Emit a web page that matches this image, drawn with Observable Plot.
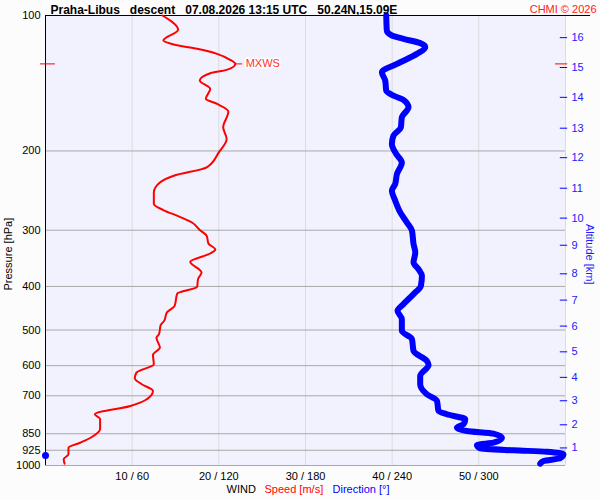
<!DOCTYPE html>
<html><head><meta charset="utf-8">
<script src="https://cdn.jsdelivr.net/npm/d3@7"></script>
<script src="https://cdn.jsdelivr.net/npm/@observablehq/plot@0.6"></script>
<style>
body{margin:0;background:#fcfcfc;}
svg text{white-space:pre;}
</style>
</head><body><div id="chart"></div>
<script>
// Wind speed profile (pressure hPa, speed m/s)
const speedP = [100,107.6,113.7,116,118.6,121.7,125.5,128.1,132.1,134.4,139.5,145.6,153.2,157.2,163.5,177.2,188.1,201.4,217.5,227,234.9,247.3,262.4,270.6,280.1,288.4,299.8,308.7,321.1,331.1,338,352.6,372.5,385.3,400.7,414.8,441.8,457.2,477,486.9,510.7,519.7,547,567.8,595.5,621.7,639.7,659.7,682.8,716.1,737.3,769.4,788.2,829.5,867.6,890,913.1,944.3,968.7,990.8];
const speedV = [13.5,15.3,13.6,14.8,17.5,19.8,21.3,21.9,20.9,19.0,17.8,19.0,18.5,19.8,21.1,20.5,20.9,20.0,18.6,14.8,13.2,12.5,12.5,13.6,15.5,16.9,17.8,18.6,18.8,19.6,19.0,16.7,18.0,17.6,17.5,15.2,14.9,14.0,13.7,13.3,13.1,12.8,13.2,12.4,12.5,10.5,10.3,11.1,12.4,11.5,9.8,5.7,6.3,6.3,5.2,4.0,2.65,2.65,2.1,2.2];
// Wind direction profile (pressure hPa, direction deg)
const dirP = [100,108,110.8,112.7,115.2,117.6,121.7,128.1,133.7,139.5,146.9,150.7,154,160,168.4,177.2,184.9,192.9,203.1,212.1,225,236.8,245.1,257.9,273.9,288.4,300.8,322.1,336.2,353.8,366,378.8,398.7,416,437.9,453.1,472.9,502.1,524,556.3,585.5,597.6,632.3,659.7,694.3,718.6,756.4,769.4,789.4,809.8,824.1,838.1,849.8,867.6,890,900.5,915.7,925.2,931.9,944.3,963.8,977.2,990.8];
const dirV = [235.9,236.3,239.8,247.8,259.4,262.9,257.1,243.3,232.9,235.2,235.9,240.9,247.8,251.3,246.7,246.0,240.9,239.8,242.8,246.7,243.3,242.1,239.8,242.1,245.6,250.2,253.7,254.8,256.0,254.8,258.2,260.6,259.9,254.8,247.8,243.7,246.7,246.7,253.7,254.8,264.0,265.2,259.4,259.4,264.0,271.0,272.1,277.9,290.6,289.4,284.8,291.7,310.1,316.0,310.1,298.7,300.9,324,347.1,358.6,356.3,344.8,342.5];
const pressureTicks = [100,200,300,400,500,600,700,850,925,1000];
const gridPressure = [200,300,400,500,600,700,850,925,1000];
const speedTicks = [10,20,30,40,50];
const speedGrid = [10,20,30,40,50,60];
const altKm = [1,2,3,4,5,6,7,8,9,10,11,12,13,14,15,16];
const altP = [914,812,718,637,559,490,429,375,324,282,242,207,178,152,130.5,112];
const mxwsP = 128.1, mxwsS = 21.9;
const surfaceP = 950;

const speed = speedP.map((p,i)=>({p, s: speedV[i]}));
const dir = dirP.map((p,i)=>({p, d: dirV[i]}));
const alt = altKm.map((k,i)=>({k, p: altP[i]}));

const font = "Arial, 'Liberation Sans', sans-serif";
const chart = Plot.plot({
  width: 600, height: 500,
  marginTop: 15, marginBottom: 35, marginLeft: 45, marginRight: 35,
  style: {fontFamily: font, fontSize: "11px", background: "#fcfcfc", overflow: "visible"},
  x: {domain: [0, 60], label: null},
  y: {type: "log", domain: [100, 1000], reverse: true, label: null},
  marks: [
    Plot.frame({fill: "#f2f2ff", stroke: "none"}),
    Plot.ruleX(speedGrid, {stroke: "#dcdcdc"}),
    Plot.ruleY(gridPressure, {stroke: "#a8a8a8"}),
    Plot.ruleX([0], {stroke: "black"}),
    Plot.ruleY([100], {x1: 0, x2: 62.9, stroke: "black", strokeWidth: 1.2}),
    Plot.axisX({ticks: speedTicks, tickFormat: d => `${d} / ${d*6}`, tickSize: 0, tickPadding: 7, fontSize: 11, label: null}),
    Plot.axisY({ticks: pressureTicks, tickFormat: d => String(d), tickSize: 0, tickPadding: 5, fontSize: 11, label: null}),
    // altitude axis (right)
    Plot.ruleY(alt, {y: "p", x1: 59.4, x2: 60.25, stroke: "#0000ff"}),
    Plot.text(alt, {y: "p", x: 60, text: d => String(d.k), dx: 6, textAnchor: "start", fill: "#2020ff", fontSize: 11}),
    // lines
    Plot.line(dir, {x: d => d.d / 6, y: "p", stroke: "#0000ff", strokeWidth: 6, curve: "monotone-y", strokeLinecap: "round", strokeLinejoin: "round"}),
    Plot.line(speed, {x: "s", y: "p", stroke: "#ff0000", strokeWidth: 2, curve: "monotone-y"}),
    // MXWS marker
    Plot.ruleY([mxwsP], {x1: mxwsS, x2: mxwsS + 0.85, stroke: "#ff0000"}),
    Plot.text([mxwsP], {y: d => d, x: mxwsS + 0.85, text: () => "MXWS", dx: 3, textAnchor: "start", fill: "#ff3030", stroke: "white", strokeWidth: 3, paintOrder: "stroke", fontSize: 11}),
    Plot.ruleY([mxwsP], {x1: -0.58, x2: 1.15, stroke: "#ff0000"}),
    Plot.ruleY([mxwsP], {x1: 58.85, x2: 60.25, stroke: "#ff0000"}),
    // surface marker
    Plot.dot([surfaceP], {x: 0, y: d => d, r: 3.5, fill: "#0000ff"}),
    // titles
    Plot.text(["Praha-Libus   descent   07.08.2026 13:15 UTC   50.24N,15.09E"], {frameAnchor: "top-left", dx: 5, dy: -10, textAnchor: "start", fontWeight: "bold", fontSize: 12, fill: "black"}),
    Plot.text(["CHMI © 2026"], {frameAnchor: "top-right", dx: 31, dy: -10, textAnchor: "end", fontSize: 11, fill: "#ff2020"}),
    Plot.text(["Pressure [hPa]"], {frameAnchor: "left", dx: -37, dy: 50, rotate: -90, fontSize: 11, fill: "black"}),
    Plot.text(["Altitude [km]"], {frameAnchor: "right", dx: 24, dy: 44, rotate: 90, fontSize: 11, fill: "#2020ff"}),
    Plot.text(["WIND"], {frameAnchor: "bottom", dx: -79, dy: 27, textAnchor: "start", fontSize: 11, fill: "black"}),
    Plot.text(["Speed [m/s]"], {frameAnchor: "bottom", dx: -41, dy: 27, textAnchor: "start", fontSize: 11, fill: "#ff0000"}),
    Plot.text(["Direction [°]"], {frameAnchor: "bottom", dx: 27, dy: 27, textAnchor: "start", fontSize: 11, fill: "#0000ff"})
  ]
});
document.getElementById("chart").appendChild(chart);
</script>
</body></html>
